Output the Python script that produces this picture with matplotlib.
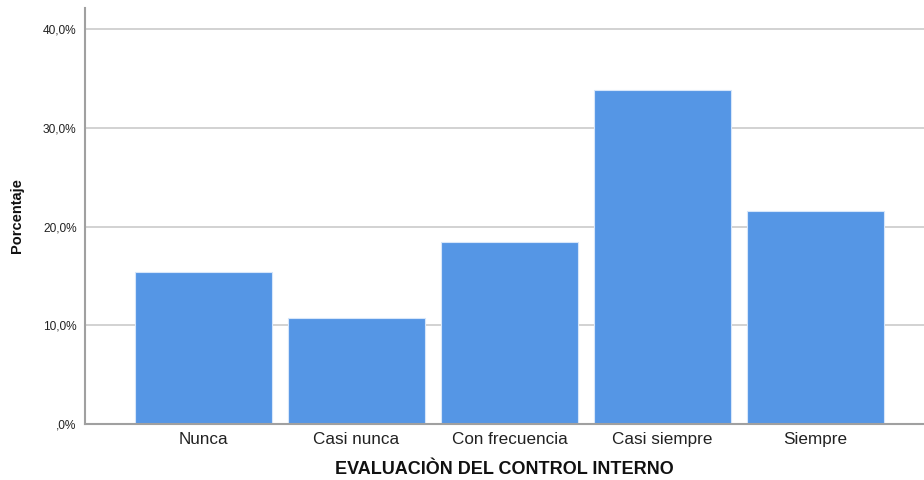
import numpy as np
import matplotlib
matplotlib.use('Agg')
import matplotlib.pyplot as plt
from matplotlib.ticker import FuncFormatter

plt.rcParams['font.family'] = ['Liberation Sans', 'DejaVu Sans']

categorias = ['Nunca', 'Casi nunca', 'Con frecuencia', 'Casi siempre', 'Siempre']
porcentajes = [15.38, 10.77, 18.46, 33.85, 21.54]
yticks = [0, 10, 20, 30, 40]


def fmt_pct(v, pos):
    if v == 0:
        return ',0%'
    return '{:.1f}%'.format(v).replace('.', ',')


fig = plt.figure(figsize=(9.24, 4.8), dpi=100)
ax = fig.add_axes([85 / 924, 56 / 480, 1 - 85 / 924, 416 / 480])

x = np.arange(len(categorias))
ax.bar(x, porcentajes, width=0.895, color='#5596e5', edgecolor='#d6e6fa',
       linewidth=0.8, zorder=3)

ax.set_xlim(-0.775, 4.709)
ax.set_ylim(0, 42.13)
ax.set_xticks(x)
ax.set_xticklabels(categorias, fontsize=12.3, color='#222222')
ax.set_yticks(yticks)
ax.yaxis.set_major_formatter(FuncFormatter(fmt_pct))
ax.tick_params(axis='y', labelsize=8.6, length=0, pad=6, labelcolor='#222222')
ax.tick_params(axis='x', length=0, pad=6)

ax.grid(axis='y', color='#cfcfcf', linewidth=1.3, zorder=0)
for s in ['top', 'right']:
    ax.spines[s].set_visible(False)
for s in ['left', 'bottom']:
    ax.spines[s].set_color('#a0a0a0')
    ax.spines[s].set_linewidth(1.5)
    ax.spines[s].set_zorder(4)

ax.set_xlabel('EVALUACIÒN DEL CONTROL INTERNO', fontsize=13, fontweight='bold',
              labelpad=10, color='#111111')
ax.set_ylabel('Porcentaje', fontsize=10.5, fontweight='bold', labelpad=14,
              color='#111111')

fig.savefig('out.png', dpi=100)
